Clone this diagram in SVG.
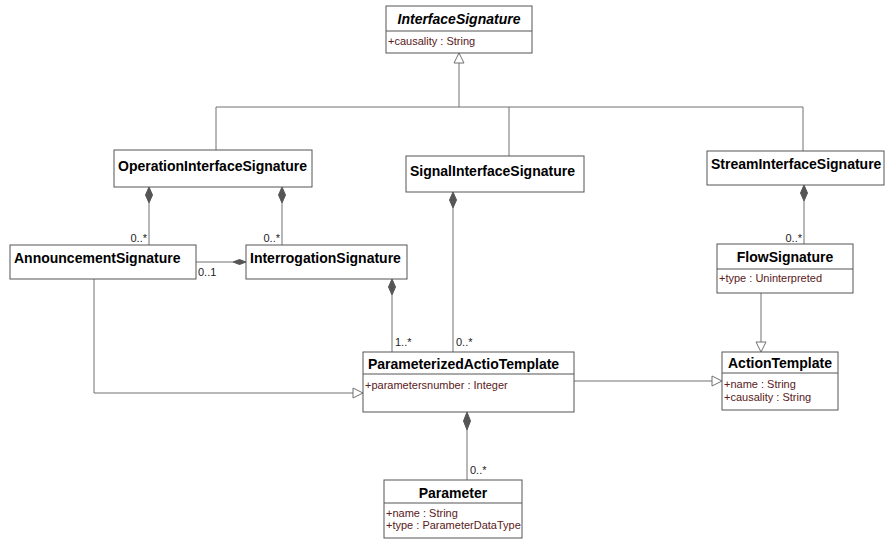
<svg xmlns="http://www.w3.org/2000/svg" width="885" height="540" viewBox="0 0 885 540">
<defs>
<style>
.box{fill:#fff;stroke:#555;stroke-width:1}
.div{stroke:#555;stroke-width:1}
.t{font-family:"Liberation Sans",Arial,sans-serif;font-size:14px;font-weight:bold;fill:#000}
.ti{font-family:"Liberation Sans",Arial,sans-serif;font-size:14px;font-weight:bold;font-style:italic;fill:#000}
.a{font-family:"Liberation Sans",Arial,sans-serif;font-size:11px;fill:#5a2020}
.m{font-family:"Liberation Sans",Arial,sans-serif;font-size:11px;fill:#222}
.ln{fill:none;stroke:#707070;stroke-width:1}
.dia{fill:#555;stroke:#555;stroke-width:1}
.tri{fill:#fff;stroke:#707070;stroke-width:1}
</style>
</defs>
<rect width="885" height="540" fill="#fff"/>
<g id="connectors">
<polyline class="ln" points="459,63 459,107"/>
<polyline class="ln" points="216,150 216,107 803,107 803,151"/>
<line class="ln" x1="509" y1="107" x2="509" y2="156"/>
<polygon class="tri" points="459,53 454,63 464,63"/>
<line class="ln" x1="149" y1="203" x2="149" y2="245"/>
<polygon class="dia" points="149,187 152.5,195 149,203 145.5,195"/>
<text class="m" x="147" y="242" text-anchor="end">0..*</text>
<line class="ln" x1="282" y1="203" x2="282" y2="245"/>
<polygon class="dia" points="282,187 285.5,195 282,203 278.5,195"/>
<text class="m" x="280" y="242" text-anchor="end">0..*</text>
<line class="ln" x1="196" y1="262" x2="233" y2="262"/>
<polygon class="dia" points="246,262 239.5,259.5 233,262 239.5,264.5"/>
<text class="m" x="198" y="276">0..1</text>
<line class="ln" x1="392" y1="295" x2="392" y2="352"/>
<polygon class="dia" points="392,279 395.5,287 392,295 388.5,287"/>
<text class="m" x="395" y="346">1..*</text>
<line class="ln" x1="453" y1="208" x2="453" y2="352"/>
<polygon class="dia" points="453,192 456.5,200 453,208 449.5,200"/>
<text class="m" x="456" y="346">0..*</text>
<line class="ln" x1="804" y1="201" x2="804" y2="244"/>
<polygon class="dia" points="804,185 807.5,193 804,201 800.5,193"/>
<text class="m" x="802" y="242" text-anchor="end">0..*</text>
<line class="ln" x1="761" y1="293" x2="761" y2="342"/>
<polygon class="tri" points="761,352 756,342 766,342"/>
<line class="ln" x1="574" y1="381" x2="712" y2="381"/>
<polygon class="tri" points="722,381 712,376 712,386"/>
<polyline class="ln" points="94,279 94,393 353,393"/>
<polygon class="tri" points="363,393 353,388 353,398"/>
<line class="ln" x1="467" y1="430" x2="467" y2="480"/>
<polygon class="dia" points="467,412 470.5,421 467,430 463.5,421"/>
<text class="m" x="470" y="474">0..*</text>
</g>
<g id="InterfaceSignature">
<rect class="box" x="386" y="6" width="146" height="47"/>
<line class="div" x1="386" y1="31" x2="532" y2="31"/>
<text class="ti" x="459" y="24" text-anchor="middle">InterfaceSignature</text>
<text class="a" x="388" y="45">+causality : String</text>
</g>
<g id="OperationInterfaceSignature">
<rect class="box" x="114" y="150" width="198" height="37"/>
<text class="t" x="118" y="171">OperationInterfaceSignature</text>
</g>
<g id="SignalInterfaceSignature">
<rect class="box" x="406" y="156" width="178" height="36"/>
<text class="t" x="410" y="176">SignalInterfaceSignature</text>
</g>
<g id="StreamInterfaceSignature">
<rect class="box" x="707" y="151" width="177" height="34"/>
<text class="t" x="711" y="169">StreamInterfaceSignature</text>
</g>
<g id="AnnouncementSignature">
<rect class="box" x="10" y="245" width="186" height="34"/>
<text class="t" x="14" y="263">AnnouncementSignature</text>
</g>
<g id="InterrogationSignature">
<rect class="box" x="246" y="245" width="161" height="34"/>
<text class="t" x="250" y="263">InterrogationSignature</text>
</g>
<g id="FlowSignature">
<rect class="box" x="717" y="244" width="136" height="49"/>
<line class="div" x1="717" y1="269" x2="853" y2="269"/>
<text class="t" x="785" y="262" text-anchor="middle">FlowSignature</text>
<text class="a" x="719" y="282">+type : Uninterpreted</text>
</g>
<g id="ParameterizedActioTemplate">
<rect class="box" x="363" y="352" width="211" height="60"/>
<line class="div" x1="363" y1="374" x2="574" y2="374"/>
<text class="t" x="368" y="369">ParameterizedActioTemplate</text>
<text class="a" x="365" y="389">+parametersnumber : Integer</text>
</g>
<g id="ActionTemplate">
<rect class="box" x="722" y="352" width="116" height="58"/>
<line class="div" x1="722" y1="373" x2="838" y2="373"/>
<text class="t" x="780" y="368" text-anchor="middle">ActionTemplate</text>
<text class="a" x="724" y="388">+name : String</text>
<text class="a" x="724" y="401">+causality : String</text>
</g>
<g id="Parameter">
<rect class="box" x="384" y="480" width="138" height="58"/>
<line class="div" x1="384" y1="503" x2="522" y2="503"/>
<text class="t" x="453" y="498" text-anchor="middle">Parameter</text>
<text class="a" x="386" y="517">+name : String</text>
<text class="a" x="386" y="529">+type : ParameterDataType</text>
</g>
</svg>
